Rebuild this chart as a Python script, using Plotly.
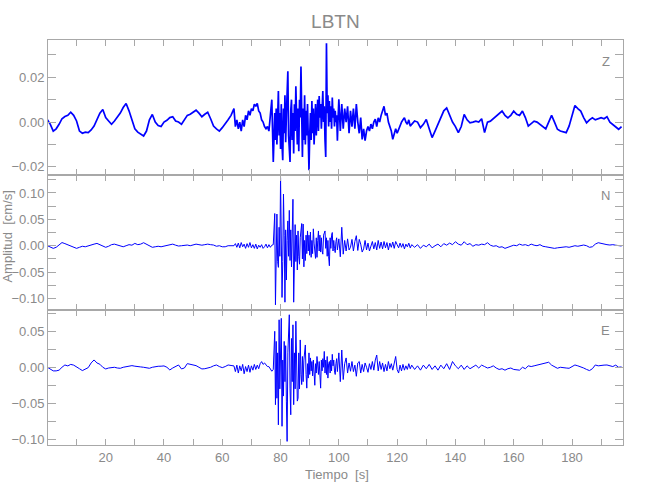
import numpy as np
import plotly.graph_objects as go
from plotly.subplots import make_subplots

# ---- sampling segments (start time [s], step [s]) ----
SEG_START = [0.0, 64.0, 78.25, 100.5, 126.0]
SEG_STEP = [1.0, 0.5, 0.25, 0.5, 1.0]

# ---- amplitudes, in units of 1e-3 cm/s ----
# Z component
z_a = [1, -1, -4, -3, -1, 1.5, 2.5, 3,
       4.4, 3, 0.5, -4, -5, -4.5, -4.7, -3.5,
       -1.8, 1.5, 4, 5.6, 2, 0.5, -1, 0.5,
       2, 4, 6.5, 8.3, 5, 1, -3, -4.5,
       -5.5, -6.2, -4, 1, 3.4, 0, -1.5, -2,
       0, 0.8, 2, 2.4, 0.5, 0, -1, 1,
       3, 3.5, 4.5, 5.3, 4, 2.4, 3.5, 4.4,
       1.5, -1.8, -3, -4, -2.5, -1, 1, 3]
z_b = [6, -2, 1, -3, 0, -4, 1, -2, 3, 1, 5, 3, 6, 5, 8, 7, 8.3, 5, 4, 1,
       0, -2, -3, -2, -4, 3, 10, -17.8, 4]
z_c = [-8, 6, -10, 2, 13.9, -6, 4, -12,
       8, -10, -17, 6, -5, 12, -9, 3,
       15, 22.7, -6, -12, -17.8, 5, 10, -8,
       4, -14, 8, -4, 16, 3, -10, 6,
       -13, 10, 2, 24.8, 4, -15.6, 6, -8,
       12, -10, 5, -6, 8, -12, -21.5, -6,
       4, -8, 9.4, -5, 6, -10, 3, 8,
       -6, 4, 10, -4, 11.6, 2, 8, -3,
       6, 13.9, 0, 7, -8, -15.6, 35.2, 4,
       12, -2, 9.4, 0, 7, -3, 10.9, 2,
       6, -2, 5, 0, 3, -8.3, 2, 10.2]
z_d = [-4, 8, -3, 6, 0, 7, -5, 5, -2, 6,
       -3, 8, 0, -5, 2, -7.7, -3, -8.3, -4, -2,
       -4, -0.9, -3, 0, 1.3, -2, 1.9, 0, 3, 5,
       7, 3, 4, 0, -1.8, -4, -7.7, -5, -3, -5,
       -3.2, -2, 0, 1, 1.9, 0, -1, 1, -1.8, -1]
z_e = [0.5, 0, -2.5, -1, 1.2, -3, -6.9, -4,
       -1, 2, 5, 6.3, 3, 0, -2, -4.7,
       -2, 3.4, 1, -0.3, 0, 0.4, 0, 1.5,
       -4.7, 0, 0.4, 1.5, 2.4, 3.5, 4.9, 3,
       1.9, 3, 4.9, 3.5, 3, 4.9, 2, -1.8,
       -0.5, 0.4, 0, -1, -2, -3, 0, 3,
       0, -3.2, -4, -4.5, -4.7, -1.8, 3, 7.4,
       6, 4.9, 2, -0.3, 1, 1.9, 1, 1.5,
       2, 1.5, 2.4, 0, -1, -2, -3.2, -2]

# N component
n_a = [0, -3, -5, -3, 2, 6, 4, 1.5,
       -1, -4, -5, -3, -1, -2, 0, 2,
       3, 4.4, 2, -1, -3, -1, 2, 3,
       1, -1, -2, 0, 2, 1, 4.4, 2,
       3, 5.7, 3, 0, -3, -2, -1, -2,
       -1, 1, 2, 3, 1, -0.6, 0, 1,
       1.3, 0, 2, 3, 2, 1, 2, 3,
       2, 1.3, -1, 0, -2, -2, 0, -0.6]
n_b = [0, 4, -3, 5, -4, 6, -2, 3, -5, 4, -3, 6, -4, 2, -5, 3, -6, 1, -3, 2,
       -5, -2, 3, -4, 2, -3, 1, 2, 61]
n_c = [-112, 20, 60, -30, -41, 35, -20, 129,
       40, -98, -30, 98, 20, -107, 30, -65,
       10, 47, -20, 67, -28, 30, -40, 54,
       88, -107, -20, 40, -30, 20, -46, 28,
       -20, -35, 15, 30, 42, -25, 41, -40,
       10, -28, 20, -15, 28, -10, 20, -18,
       26, -22, 10, -15, 32, 5, -20, -24,
       15, -22, 10, 28, -10, 20, -12, 15,
       -10, -16, 20, 26, 28, -5, 15, -20,
       10, -21, -38, 15, -5, 20, 25, -10,
       10, -5, -13, 8, 15, -8, 5, 13]
n_d = [-21, 35, -16, 10, -10, 13, -8, -3, 12, -10,
       8, 19, -9, 12, 3, -12, -6, 10, -8, 5,
       -10, 0, 8, -6, 6, -8, 10, -5, 7, -6,
       8, -4, 6, -8, 5, -3, 7, -5, 8, 2,
       -4, 5, -3, 4, -6, 3, -2, 5, -4, 2]
n_e = [-3, 2, -5, 1, -2, 3, -4, 0,
       3, -2, 4, 1, 5, 2, 7.6, 3,
       1, 7.6, 2, 4, -1, 2, 1, 3,
       2, 5.7, 1, -1, 0, -3, -2, -5,
       -3, -1, 1, 0, 3, 1, 2, 0,
       3, 1, 0, 2, -1, -2, -3, -4,
       -5, -4, -3, -3, -2, -3, -1, 0,
       -1, 0, 1.3, 0, -3, -2, 3, 5.7,
       4, 3, 2, 1.3, 2, 1, 0, -0.6]

# E component
e_a = [0, -2, -5, -5, -4, 0, 3.2, 1.9,
       4, 3, 0.9, -2, -4.6, -3, -0.5, 6,
       10.2, 6, 4.2, 0, -2.3, -1, 0, 0,
       -1, -1.4, 0, 0.9, 1.5, 2.3, 1.5, 0.5,
       0.5, 0, -1, -1.4, 0, 1, 1.4, 1.5,
       1.9, 0, -3.7, -1, 1, 3.2, -2.3, -1,
       5.1, 4, 3, 2.3, 0, -2.3, -2, -1.4,
       0, 2, 3.2, 1, -0.5, 1, 3.2, 2.5]
e_b = [1.9, -6, 3, -8, 2, -5, 4, -9, 1, -6, 3, -7, 2, -4, 4, -3, 3, -2, 5, 7.9,
       4, 6, 3, 1, 0.9, -2, -5.5, -3, 50]
e_c = [-52, 36, -43, 20, -80, 66, -30, 40,
       68, -82, 10, -40, 36, -20, 30, -47,
       -103, 20, 50, 73, -30, -66, 40, -20,
       59, -52, 20, -30, 64, 10, -47, -43,
       20, -30, 38, -10, -24, 15, -20, 10,
       25, 31, -10, -29, 5, -15, 20, -10,
       13, -5, 8, -12, 10, -15, -25, 5,
       -8, 15, 5, -10, 8, -20, -29, 10,
       -5, 12, 0, 22, -8, 10, -10, 15,
       -15, 5, 8, -8, 10, -5, 18, 2,
       10, -5, -10, 5, 12, -6, 8, 20]
e_d = [-20, 24, -17, 5, 13, -8, 6, -5.5, 8, -6,
       3, -12.5, 6, 8, -8, 4, -6, 6, 0, -7,
       5, -3, 8, -4, 10, 17, -5, 8, -3, 6,
       -6, 4, -5, 8, -2, 5, -4, 6, 15, -3,
       -8, 3, -5, 4, -4, 2, -3, 5, -2, 3]
e_e = [-3, 2, -4, 3, -2, 4, -3, 2,
       -4, 3, -2, 5, -3, 8, 2, -2,
       3, -3, 2, -2, 1, 3, -1, 3,
       1, -1, 0, 2, -1, -3, -2, -4,
       -2, -1, -3, -4, -4, 0, -2, 2,
       1, 2, 3, 3, 4, 5, 7, 3,
       1, -1.4, 0, 0, -1, -1.4, 1, 3.2,
       2, 1, -1, -3, -4.6, -2, 3.2, 2,
       2, 3, 3.2, 2, 1, 3, 0, 0.5]

COMPONENTS = ["Z", "N", "E"]
Y_RANGES = [[-0.0236, 0.0366], [-0.1218, 0.134], [-0.108, 0.0796]]
Y_MAJOR = [0.02, 0.05, 0.05]
Y_MINOR = [0.01, 0.025, 0.025]
X_RANGE = [0.2, 197.5]


def build(segments):
    ts, vs = [], []
    for start, step, seg in zip(SEG_START, SEG_STEP, segments):
        ts.append(start + step * np.arange(len(seg)))
        vs.append(np.asarray(seg, dtype=float) * 1e-3)
    return np.concatenate(ts), np.concatenate(vs)


traces = [build([z_a, z_b, z_c, z_d, z_e]),
          build([n_a, n_b, n_c, n_d, n_e]),
          build([e_a, e_b, e_c, e_d, e_e])]

GRAY = "#8a8a8a"
AXC = "#a8a8a8"
FONT = "Liberation Sans Narrow, Liberation Sans, Arial, sans-serif"

fig = make_subplots(rows=3, cols=1, shared_xaxes=True, vertical_spacing=0)

for i, (t, v) in enumerate(traces):
    fig.add_trace(go.Scatter(x=t, y=v, mode="lines",
                             line=dict(color="#0000ff", width=1.7 if i == 0 else 1),
                             showlegend=False, hoverinfo="skip"),
                  row=i + 1, col=1)
    fig.update_yaxes(range=Y_RANGES[i], dtick=Y_MAJOR[i], tick0=0, tickformat=".2f",
                     ticks="inside", ticklen=8, tickcolor=AXC, showgrid=False,
                     zeroline=False, showline=True, linecolor=AXC, linewidth=1,
                     mirror="ticks", automargin=False,
                     minor=dict(dtick=Y_MINOR[i], tick0=0, ticks="inside", ticklen=8,
                                tickcolor=AXC, showgrid=False),
                     tickfont=dict(family=FONT, size=13, color=GRAY),
                     row=i + 1, col=1)
    fig.update_xaxes(range=X_RANGE, dtick=20, tick0=0, ticks="inside", ticklen=6,
                     tickcolor=AXC, showgrid=False, zeroline=False, showline=True,
                     linecolor=AXC, linewidth=1, mirror="ticks", automargin=False,
                     minor=dict(dtick=10, tick0=0, ticks="inside", ticklen=6,
                                tickcolor=AXC, showgrid=False),
                     showticklabels=(i == 2),
                     tickfont=dict(family=FONT, size=13, color=GRAY),
                     row=i + 1, col=1)

label_y = [0.948, 0.615, 0.282]
annotations = []
for comp, ly in zip(COMPONENTS, label_y):
    annotations.append(dict(text=comp, x=0.970, y=ly, xref="paper", yref="paper",
                            xanchor="center", yanchor="middle", showarrow=False,
                            font=dict(family=FONT, size=13, color=GRAY)))
annotations.append(dict(text="Amplitud\u00a0 [cm/s]", x=-0.070, y=0.514, xref="paper",
                        yref="paper", xanchor="center", yanchor="middle",
                        textangle=-90, showarrow=False,
                        font=dict(family=FONT, size=13, color=GRAY)))
annotations.append(dict(text="Tiempo\u00a0 [s]", x=0.502, y=-0.073, xref="paper",
                        yref="paper", xanchor="center", yanchor="middle",
                        showarrow=False,
                        font=dict(family=FONT, size=13, color=GRAY)))

fig.update_layout(
    width=650, height=500,
    margin=dict(l=48, r=27, t=40, b=55),
    paper_bgcolor="white", plot_bgcolor="white",
    title=dict(text="LBTN", x=0.516, xanchor="center", y=0.958, yanchor="middle",
               font=dict(family=FONT, size=19, color=GRAY)),
    annotations=annotations,
)

# remove the browser's default page margin so the figure sits at the window's corner
fig.write_html("out.html", config={"displayModeBar": False},
               post_script="document.body.style.margin='0px';")
